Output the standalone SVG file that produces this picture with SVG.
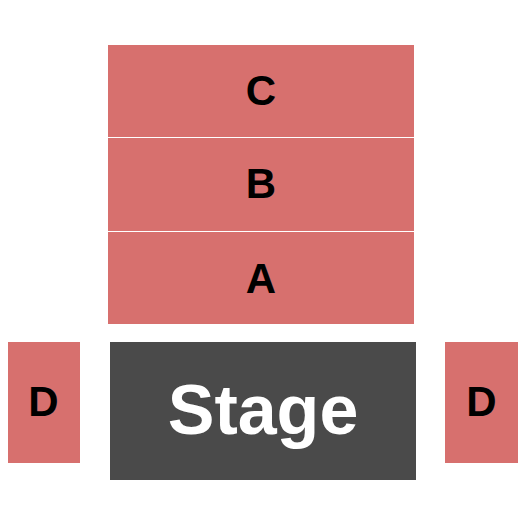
<svg xmlns="http://www.w3.org/2000/svg" width="525" height="525" viewBox="0 0 525 525">
<style>
.sec{fill:#d7706e}
.stage{fill:#4a4a4a}
.lbl{font-family:"Liberation Sans",Arial,sans-serif;font-weight:bold;font-size:42px;fill:#000;text-anchor:middle}
.slbl{font-family:"Liberation Sans",Arial,sans-serif;font-weight:bold;font-size:70px;fill:#fff;text-anchor:middle}
</style>
<rect width="525" height="525" fill="#fff"/>
<g id="C"><rect class="sec" x="108" y="45" width="306" height="92"/><text class="lbl" x="261" y="105">C</text></g>
<g id="B"><rect class="sec" x="108" y="138" width="306" height="93"/><text class="lbl" x="261" y="198">B</text></g>
<g id="A"><rect class="sec" x="108" y="232" width="306" height="92"/><text class="lbl" x="261" y="293">A</text></g>
<g id="stage"><rect class="stage" x="110" y="342" width="306" height="138"/><text class="slbl" x="263" y="434">Stage</text></g>
<g id="D-left"><rect class="sec" x="8" y="342" width="72" height="121"/><text class="lbl" x="43.5" y="416">D</text></g>
<g id="D-right"><rect class="sec" x="445" y="342" width="73" height="121"/><text class="lbl" x="481.5" y="416">D</text></g>
<g id="connectors"/>
</svg>
